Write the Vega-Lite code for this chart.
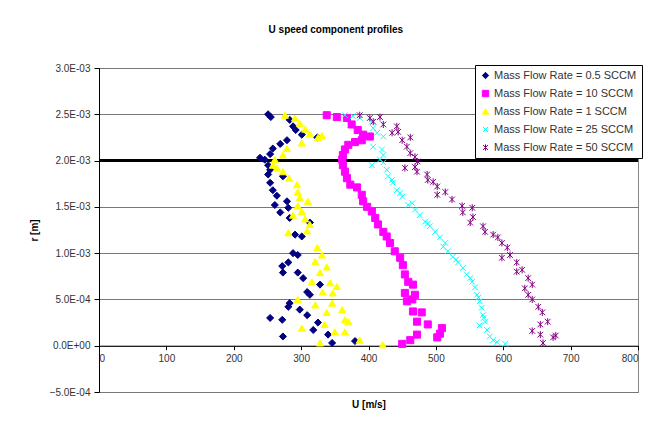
{
  "$schema": "https://vega.github.io/schema/vega-lite/v6.json",
  "width": 539,
  "height": 324,
  "autosize": {"type": "none"},
  "padding": {"left": 99, "top": 68, "right": 31, "bottom": 29},
  "background": "white",
  "title": {"text": "U speed component profiles", "font": "Liberation Sans", "fontSize": 10, "fontWeight": "bold", "color": "black", "anchor": "middle", "frame": "bounds", "offset": 28},
  "config": {
    "view": {"stroke": "#888888", "strokeWidth": 1},
    "font": "Liberation Sans"
  },
  "data": {"values": [
    {"s":"0.5","u":251,"r":0.00250},{"s":"0.5","u":255,"r":0.00247},{"s":"0.5","u":283,"r":0.00244},{"s":"0.5","u":288,"r":0.00237},{"s":"0.5","u":292,"r":0.00233},{"s":"0.5","u":301,"r":0.00228},{"s":"0.5","u":324,"r":0.00225},{"s":"0.5","u":279,"r":0.00222},{"s":"0.5","u":269,"r":0.00218},{"s":"0.5","u":258,"r":0.00213},{"s":"0.5","u":254,"r":0.00207},{"s":"0.5","u":239,"r":0.00203},{"s":"0.5","u":246,"r":0.00201},{"s":"0.5","u":251,"r":0.00195},{"s":"0.5","u":254,"r":0.00190},{"s":"0.5","u":251,"r":0.00185},{"s":"0.5","u":273,"r":0.00183},{"s":"0.5","u":254,"r":0.00176},{"s":"0.5","u":258,"r":0.00168},{"s":"0.5","u":264,"r":0.00162},{"s":"0.5","u":279,"r":0.00156},{"s":"0.5","u":261,"r":0.00152},{"s":"0.5","u":281,"r":0.00149},{"s":"0.5","u":269,"r":0.00144},{"s":"0.5","u":283,"r":0.00138},{"s":"0.5","u":313,"r":0.00133},{"s":"0.5","u":291,"r":0.00120},{"s":"0.5","u":301,"r":0.00118},{"s":"0.5","u":288,"r":0.00100},{"s":"0.5","u":295,"r":0.00098},{"s":"0.5","u":281,"r":0.00090},{"s":"0.5","u":272,"r":0.00086},{"s":"0.5","u":273,"r":0.00079},{"s":"0.5","u":295,"r":0.00079},{"s":"0.5","u":303,"r":0.00073},{"s":"0.5","u":328,"r":0.00066},{"s":"0.5","u":309,"r":0.00058},{"s":"0.5","u":313,"r":0.00055},{"s":"0.5","u":283,"r":0.00046},{"s":"0.5","u":281,"r":0.00042},{"s":"0.5","u":298,"r":0.00039},{"s":"0.5","u":309,"r":0.00033},{"s":"0.5","u":254,"r":0.00030},{"s":"0.5","u":272,"r":0.00028},{"s":"0.5","u":325,"r":0.00025},{"s":"0.5","u":318,"r":0.00017},{"s":"0.5","u":340,"r":0.00012},{"s":"0.5","u":273,"r":0.00010},{"s":"0.5","u":380,"r":0.00005},{"s":"0.5","u":346,"r":0.00003},

    {"s":"10","u":338,"r":0.00249},{"s":"10","u":353,"r":0.00247},{"s":"10","u":368,"r":0.00246},{"s":"10","u":375,"r":0.00239},{"s":"10","u":384,"r":0.00233},{"s":"10","u":392,"r":0.00228},{"s":"10","u":402,"r":0.00226},{"s":"10","u":390,"r":0.00222},{"s":"10","u":380,"r":0.00220},{"s":"10","u":370,"r":0.00217},{"s":"10","u":365,"r":0.00212},{"s":"10","u":362,"r":0.00206},{"s":"10","u":361,"r":0.00201},{"s":"10","u":362,"r":0.00195},{"s":"10","u":365,"r":0.00188},{"s":"10","u":368,"r":0.00181},{"s":"10","u":373,"r":0.00174},{"s":"10","u":383,"r":0.00171},{"s":"10","u":390,"r":0.00163},{"s":"10","u":392,"r":0.00156},{"s":"10","u":398,"r":0.00150},{"s":"10","u":405,"r":0.00145},{"s":"10","u":410,"r":0.00138},{"s":"10","u":414,"r":0.00131},{"s":"10","u":422,"r":0.00123},{"s":"10","u":427,"r":0.00118},{"s":"10","u":432,"r":0.00111},{"s":"10","u":439,"r":0.00102},{"s":"10","u":447,"r":0.00095},{"s":"10","u":451,"r":0.00087},{"s":"10","u":454,"r":0.00077},{"s":"10","u":459,"r":0.00069},{"s":"10","u":466,"r":0.00066},{"s":"10","u":454,"r":0.00057},{"s":"10","u":469,"r":0.00055},{"s":"10","u":465,"r":0.00050},{"s":"10","u":457,"r":0.00048},{"s":"10","u":466,"r":0.00037},{"s":"10","u":479,"r":0.00036},{"s":"10","u":472,"r":0.00026},{"s":"10","u":488,"r":0.00023},{"s":"10","u":509,"r":0.00019},{"s":"10","u":506,"r":0.00013},{"s":"10","u":472,"r":0.00012},{"s":"10","u":502,"r":0.00009},{"s":"10","u":462,"r":0.00006},{"s":"10","u":450,"r":0.00002},

    {"s":"1","u":276,"r":0.00249},{"s":"1","u":291,"r":0.00246},{"s":"1","u":298,"r":0.00240},{"s":"1","u":306,"r":0.00234},{"s":"1","u":313,"r":0.00229},{"s":"1","u":325,"r":0.00225},{"s":"1","u":331,"r":0.00227},{"s":"1","u":301,"r":0.00219},{"s":"1","u":279,"r":0.00213},{"s":"1","u":273,"r":0.00206},{"s":"1","u":261,"r":0.00201},{"s":"1","u":258,"r":0.00195},{"s":"1","u":264,"r":0.00192},{"s":"1","u":273,"r":0.00188},{"s":"1","u":282,"r":0.00181},{"s":"1","u":294,"r":0.00174},{"s":"1","u":295,"r":0.00166},{"s":"1","u":298,"r":0.00160},{"s":"1","u":310,"r":0.00156},{"s":"1","u":295,"r":0.00151},{"s":"1","u":301,"r":0.00145},{"s":"1","u":288,"r":0.00141},{"s":"1","u":306,"r":0.00137},{"s":"1","u":313,"r":0.00131},{"s":"1","u":309,"r":0.00124},{"s":"1","u":281,"r":0.00122},{"s":"1","u":324,"r":0.00106},{"s":"1","u":331,"r":0.00098},{"s":"1","u":321,"r":0.00091},{"s":"1","u":338,"r":0.00085},{"s":"1","u":328,"r":0.00079},{"s":"1","u":316,"r":0.00069},{"s":"1","u":343,"r":0.00068},{"s":"1","u":353,"r":0.00064},{"s":"1","u":332,"r":0.00058},{"s":"1","u":347,"r":0.00057},{"s":"1","u":295,"r":0.00050},{"s":"1","u":321,"r":0.00044},{"s":"1","u":346,"r":0.00046},{"s":"1","u":361,"r":0.00039},{"s":"1","u":338,"r":0.00036},{"s":"1","u":365,"r":0.00028},{"s":"1","u":370,"r":0.00026},{"s":"1","u":301,"r":0.00019},{"s":"1","u":335,"r":0.00023},{"s":"1","u":365,"r":0.00015},{"s":"1","u":350,"r":0.00015},{"s":"1","u":387,"r":0.00006},{"s":"1","u":328,"r":0.00003},{"s":"1","u":421,"r":0.00001},

    {"s":"25","u":365,"r":0.00249},{"s":"25","u":377,"r":0.00248},{"s":"25","u":387,"r":0.00246},{"s":"25","u":405,"r":0.00242},{"s":"25","u":407,"r":0.00235},{"s":"25","u":413,"r":0.00230},{"s":"25","u":422,"r":0.00226},{"s":"25","u":407,"r":0.00215},{"s":"25","u":420,"r":0.00212},{"s":"25","u":422,"r":0.00206},{"s":"25","u":417,"r":0.00201},{"s":"25","u":405,"r":0.00195},{"s":"25","u":422,"r":0.00198},{"s":"25","u":427,"r":0.00190},{"s":"25","u":429,"r":0.00183},{"s":"25","u":435,"r":0.00179},{"s":"25","u":436,"r":0.00176},{"s":"25","u":442,"r":0.00168},{"s":"25","u":447,"r":0.00165},{"s":"25","u":450,"r":0.00161},{"s":"25","u":465,"r":0.00154},{"s":"25","u":459,"r":0.00152},{"s":"25","u":469,"r":0.00147},{"s":"25","u":476,"r":0.00141},{"s":"25","u":484,"r":0.00134},{"s":"25","u":488,"r":0.00132},{"s":"25","u":491,"r":0.00129},{"s":"25","u":499,"r":0.00123},{"s":"25","u":506,"r":0.00117},{"s":"25","u":514,"r":0.00111},{"s":"25","u":511,"r":0.00107},{"s":"25","u":518,"r":0.00102},{"s":"25","u":525,"r":0.00096},{"s":"25","u":530,"r":0.00093},{"s":"25","u":533,"r":0.00090},{"s":"25","u":540,"r":0.00084},{"s":"25","u":546,"r":0.00077},{"s":"25","u":551,"r":0.00073},{"s":"25","u":554,"r":0.00069},{"s":"25","u":558,"r":0.00063},{"s":"25","u":561,"r":0.00055},{"s":"25","u":563,"r":0.00052},{"s":"25","u":565,"r":0.00048},{"s":"25","u":568,"r":0.00041},{"s":"25","u":570,"r":0.00033},{"s":"25","u":571,"r":0.00030},{"s":"25","u":573,"r":0.00026},{"s":"25","u":565,"r":0.00022},{"s":"25","u":576,"r":0.00017},{"s":"25","u":580,"r":0.00010},{"s":"25","u":585,"r":0.00006},{"s":"25","u":591,"r":0.00004},{"s":"25","u":603,"r":0.00002},

    {"s":"50","u":387,"r":0.00249},{"s":"50","u":402,"r":0.00246},{"s":"50","u":417,"r":0.00247},{"s":"50","u":407,"r":0.00242},{"s":"50","u":422,"r":0.00239},{"s":"50","u":435,"r":0.00230},{"s":"50","u":442,"r":0.00237},{"s":"50","u":444,"r":0.00231},{"s":"50","u":450,"r":0.00222},{"s":"50","u":462,"r":0.00225},{"s":"50","u":457,"r":0.00215},{"s":"50","u":462,"r":0.00208},{"s":"50","u":469,"r":0.00204},{"s":"50","u":473,"r":0.00199},{"s":"50","u":469,"r":0.00193},{"s":"50","u":454,"r":0.00192},{"s":"50","u":472,"r":0.00188},{"s":"50","u":487,"r":0.00185},{"s":"50","u":488,"r":0.00179},{"s":"50","u":496,"r":0.00177},{"s":"50","u":502,"r":0.00172},{"s":"50","u":502,"r":0.00163},{"s":"50","u":514,"r":0.00166},{"s":"50","u":524,"r":0.00158},{"s":"50","u":539,"r":0.00151},{"s":"50","u":540,"r":0.00144},{"s":"50","u":554,"r":0.00149},{"s":"50","u":555,"r":0.00139},{"s":"50","u":551,"r":0.00133},{"s":"50","u":570,"r":0.00129},{"s":"50","u":573,"r":0.00123},{"s":"50","u":585,"r":0.00120},{"s":"50","u":592,"r":0.00117},{"s":"50","u":598,"r":0.00111},{"s":"50","u":606,"r":0.00106},{"s":"50","u":610,"r":0.00098},{"s":"50","u":598,"r":0.00095},{"s":"50","u":620,"r":0.00090},{"s":"50","u":628,"r":0.00082},{"s":"50","u":620,"r":0.00080},{"s":"50","u":637,"r":0.00073},{"s":"50","u":643,"r":0.00066},{"s":"50","u":632,"r":0.00062},{"s":"50","u":637,"r":0.00055},{"s":"50","u":643,"r":0.00050},{"s":"50","u":652,"r":0.00042},{"s":"50","u":658,"r":0.00036},{"s":"50","u":666,"r":0.00026},{"s":"50","u":655,"r":0.00023},{"s":"50","u":643,"r":0.00016},{"s":"50","u":655,"r":0.00012},{"s":"50","u":674,"r":0.00009},{"s":"50","u":678,"r":0.00011},{"s":"50","u":659,"r":0.00003}
  ]},
  "encoding": {
    "y": {"field": "r", "type": "quantitative", "title": "r [m]",
      "scale": {"domain": [-0.0005, 0.003], "nice": false, "zero": false},
      "axis": {"values": [-0.0005, 0, 0.0005, 0.001, 0.0015, 0.002, 0.0025, 0.003],
        "labelExpr": "replace(replace(upper(format(datum.value, '.1e')), 'E-', 'E-0'), 'E+', 'E+0')",
        "labelFont": "Liberation Sans", "labelFontSize": 10, "labelColor": "#333333", "labelPadding": 4,
        "tickSize": 5, "tickColor": "black", "domainColor": "black",
        "grid": true, "gridColor": "#777777", "gridWidth": 1,
        "titleFont": "Liberation Sans", "titleFontSize": 10, "titleFontWeight": "bold", "titleColor": "black", "titlePadding": 10}
    }
  },
  "layer": [
    {
      "mark": {"type": "rule", "color": "black", "strokeWidth": 2},
      "encoding": {"y": {"datum": 0.002}}
    },
    {
      "mark": {"type": "point", "filled": true, "opacity": 1},
      "encoding": {
        "x": {"field": "u", "type": "quantitative", "title": "U [m/s]",
          "scale": {"domain": [0, 800], "nice": false},
          "axis": {"values": [0, 100, 200, 300, 400, 500, 600, 700, 800], "offset": -46.29, "grid": false,
            "labelFont": "Liberation Sans", "labelFontSize": 10, "labelColor": "#333333", "labelPadding": 4,
            "tickSize": 4, "tickColor": "black", "domainColor": "black",
            "titleFont": "Liberation Sans", "titleFontSize": 10, "titleFontWeight": "bold", "titleColor": "black", "titlePadding": 36}
        },
        "y": {"field": "r", "type": "quantitative"},
        "fill": {"field": "s", "type": "nominal", "title": null,
          "scale": {"domain": ["0.5", "10", "1", "25", "50"], "range": ["#000080", "#FF00FF", "#FFFF00", "#00FFFF", "#800080"]},
          "legend": {"orient": "none", "legendX": 376, "legendY": -3, "padding": 5, "rowPadding": 6,
            "strokeColor": "black", "fillColor": "white", "symbolSize": 40, "symbolStrokeWidth": 1,
            "labelFont": "Liberation Sans", "labelFontSize": 11, "labelColor": "#333333", "labelOffset": 3,
            "labelExpr": "'Mass Flow Rate = ' + datum.label + ' SCCM'"}
        },
        "stroke": {"field": "s", "type": "nominal", "title": null,
          "scale": {"domain": ["0.5", "10", "1", "25", "50"], "range": ["#000080", "#FF00FF", "#FFFF00", "#00FFFF", "#800080"]}
        },
        "shape": {"field": "s", "type": "nominal", "title": null,
          "scale": {"domain": ["0.5", "10", "1", "25", "50"], "range": ["diamond", "square", "triangle-up", "M-0.8,-0.8L0.8,0.8M-0.8,0.8L0.8,-0.8", "M-0.8,-0.8L0.8,0.8M-0.8,0.8L0.8,-0.8M0,-1L0,1"]}
        },
        "strokeWidth": {"field": "s", "type": "nominal", "legend": null,
          "scale": {"domain": ["0.5", "10", "1", "25", "50"], "range": [1, 1, 1, 1.6, 2]}
        },
        "size": {"value": 50}
      }
    }
  ]
}
